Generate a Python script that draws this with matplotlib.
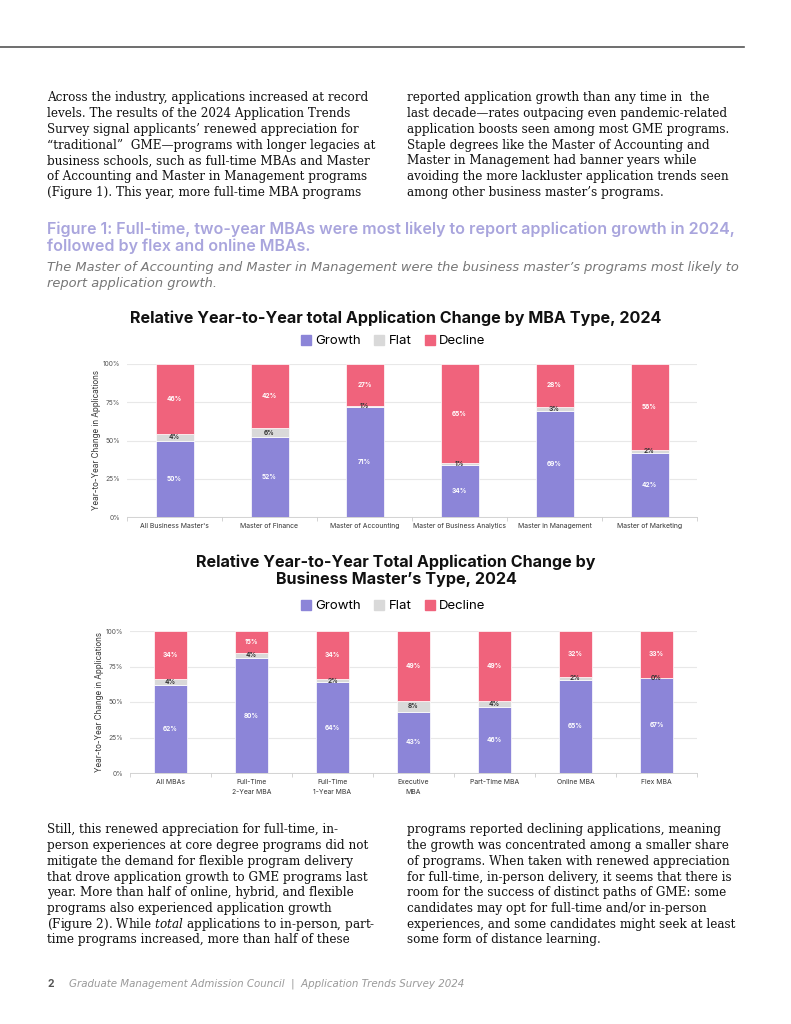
import numpy as np
import matplotlib
matplotlib.use('Agg')
import matplotlib.pyplot as plt
from matplotlib.patches import Patch

plt.rcParams['mathtext.fontset'] = 'custom'
plt.rcParams['mathtext.rm'] = 'DejaVu Serif'
plt.rcParams['mathtext.it'] = 'DejaVu Serif:italic'

# chart 1 data (business master's)
cats1 = ["All Business Master's", 'Master of Finance', 'Master of Accounting',
         'Master of Business Analytics', 'Master in Management', 'Master of Marketing']
growth1 = [50, 52, 71, 34, 69, 42]
flat1 = [4, 6, 1, 1, 3, 2]
decline1 = [46, 42, 27, 65, 28, 56]

# chart 2 data (MBA types)
cats2 = ['All MBAs', 'Full-Time\n2-Year MBA', 'Full-Time\n1-Year MBA', 'Executive\nMBA',
         'Part-Time MBA', 'Online MBA', 'Flex MBA']
growth2 = [62, 80, 64, 43, 46, 65, 67]
flat2 = [4, 4, 2, 8, 4, 2, 0]
decline2 = [34, 15, 34, 49, 49, 32, 33]

yticks = [0, 25, 50, 75, 100]

C_GROW = '#8c85d8'
C_FLAT = '#d9d9d9'
C_DEC = '#f0637c'

W, H = 791, 1024
fig = plt.figure(figsize=(W / 100, H / 100), dpi=100)

def px(x, y):
    return x / W, 1 - y / H

SERIF = 'DejaVu Serif'
SANS = 'Inter'
ITAL = 'DejaVu Sans'

def para(x, y0, lines, step=15.7):
    for i, ln in enumerate(lines):
        fig.text(*px(x, y0 + i * step), ln, family=SERIF, fontsize=8.65,
                 color='#111111', va='center', ha='left')

# header rule
fig.add_artist(plt.Line2D([0, 744 / W], [1 - 47 / H] * 2, color='#555555', lw=1.2))

para(47, 98, ["Across the industry, applications increased at record",
              "levels. The results of the 2024 Application Trends",
              "Survey signal applicants\u2019 renewed appreciation for",
              "\u201ctraditional\u201d  GME\u2014programs with longer legacies at",
              "business schools, such as full-time MBAs and Master",
              "of Accounting and Master in Management programs",
              "(Figure 1). This year, more full-time MBA programs"])
para(407, 98, ["reported application growth than any time in  the",
               "last decade\u2014rates outpacing even pandemic-related",
               "application boosts seen among most GME programs.",
               "Staple degrees like the Master of Accounting and",
               "Master in Management had banner years while",
               "avoiding the more lackluster application trends seen",
               "among other business master\u2019s programs."])

fig.text(*px(47, 229), 'Figure 1: Full-time, two-year MBAs were most likely to report application growth in 2024,',
         family=SANS, fontsize=11.55, fontweight='semibold', color='#a9a5dd', va='center')
fig.text(*px(47, 246), 'followed by flex and online MBAs.',
         family=SANS, fontsize=11.55, fontweight='semibold', color='#a9a5dd', va='center')
fig.text(*px(47, 268), 'The Master of Accounting and Master in Management were the business master\u2019s programs most likely to',
         family=ITAL, style='italic', fontsize=9.4, color='#777777', va='center')
fig.text(*px(47, 283), 'report application growth.',
         family=ITAL, style='italic', fontsize=9.4, color='#777777', va='center')


def chart(rect, cats, g, f, d, title, title_y, legend_y):
    ax = fig.add_axes(rect)
    n = len(cats)
    x = np.arange(n)
    g = np.array(g, float); f = np.array(f, float); d = np.array(d, float)
    tot = g + f + d
    # stacked to 100%
    gs, fs, ds = g / tot * 100, f / tot * 100, d / tot * 100
    kw = dict(width=0.4, edgecolor='white', linewidth=0.5, zorder=3)
    ax.bar(x, gs, color=C_GROW, **kw)
    ax.bar(x, fs, bottom=gs, color=C_FLAT, **kw)
    ax.bar(x, ds, bottom=gs + fs, color=C_DEC, **kw)
    for i in range(n):
        ax.text(x[i], gs[i] / 2, f'{g[i]:.0f}%', ha='center', va='center', fontsize=4.7,
                color='white', fontweight='bold', family=SANS, zorder=4)
        ax.text(x[i], gs[i] + fs[i] / 2, f'{f[i]:.0f}%', ha='center', va='center', fontsize=4.7,
                color='#333333', fontweight='bold', family=SANS, zorder=4)
        ax.text(x[i], gs[i] + fs[i] + ds[i] / 2, f'{d[i]:.0f}%', ha='center', va='center',
                fontsize=4.7, color='white', fontweight='bold', family=SANS, zorder=4)
    ax.set_xlim(-0.5, n - 0.5)
    ax.set_ylim(0, 100)
    ax.set_yticks(yticks)
    ax.set_yticklabels([f'{t}%' for t in yticks])
    ax.yaxis.grid(True, color='#e8e8e8', lw=0.8, zorder=0)
    ax.set_xticks(x)
    ax.set_xticklabels(cats, linespacing=1.8)
    ax.set_xticks(np.arange(-0.5, n, 1), minor=True)
    ax.tick_params(axis='x', which='major', length=0, labelsize=4.9, labelcolor='#333333', pad=4)
    ax.tick_params(axis='x', which='minor', length=3, color='#cccccc', width=0.6)
    ax.tick_params(axis='y', length=0, labelsize=4.8, labelcolor='#555555', pad=5)
    for lbl in ax.get_xticklabels() + ax.get_yticklabels():
        lbl.set_family(SANS)
    for s in ['top', 'right', 'left']:
        ax.spines[s].set_visible(False)
    ax.spines['bottom'].set_color('#cccccc')
    ax.spines['bottom'].set_linewidth(0.6)
    ax.set_ylabel('Year-to-Year Change in Applications', fontsize=5.8, family=SANS,
                  color='#333333', labelpad=1.5)
    fig.text(*px(396, title_y), title, ha='center', va='center', family=SANS,
             fontsize=11.6, fontweight='bold', color='#111111', linespacing=1.15)
    handles = [Patch(color=C_GROW, label='Growth'), Patch(color=C_FLAT, label='Flat'),
               Patch(color=C_DEC, label='Decline')]
    fig.legend(handles=handles, loc='center', bbox_to_anchor=px(393, legend_y), ncol=3,
               frameon=False, prop={'family': SANS, 'size': 9.5}, handlelength=0.8,
               handleheight=0.8, handletextpad=0.3, columnspacing=1.0, borderpad=0)
    return ax

l, r = 127, 697
chart([l / W, 1 - 517 / H, (r - l) / W, 153 / H], cats1, growth1, flat1, decline1,
      'Relative Year-to-Year total Application Change by MBA Type, 2024', 318, 341)
chart([130 / W, 1 - 773 / H, (r - 130) / W, 142 / H], cats2, growth2, flat2, decline2,
      'Relative Year-to-Year Total Application Change by\nBusiness Master\u2019s Type, 2024', 571, 606)

para(47, 830, ["Still, this renewed appreciation for full-time, in-",
               "person experiences at core degree programs did not",
               "mitigate the demand for flexible program delivery",
               "that drove application growth to GME programs last",
               "year. More than half of online, hybrid, and flexible",
               "programs also experienced application growth",
               r"(Figure 2). While $\mathit{total}$ applications to in-person, part-",
               "time programs increased, more than half of these"])
para(407, 830, ["programs reported declining applications, meaning",
                "the growth was concentrated among a smaller share",
                "of programs. When taken with renewed appreciation",
                "for full-time, in-person delivery, it seems that there is",
                "room for the success of distinct paths of GME: some",
                "candidates may opt for full-time and/or in-person",
                "experiences, and some candidates might seek at least",
                "some form of distance learning."])

fig.text(*px(47, 984), '2', family=SANS, fontweight='bold', fontsize=7.5, color='#555555', va='center')
fig.text(*px(69, 984), 'Graduate Management Admission Council  |  Application Trends Survey 2024',
         family=ITAL, style='italic', fontsize=7.4, color='#999999', va='center')

fig.savefig('out.png', dpi=100)
